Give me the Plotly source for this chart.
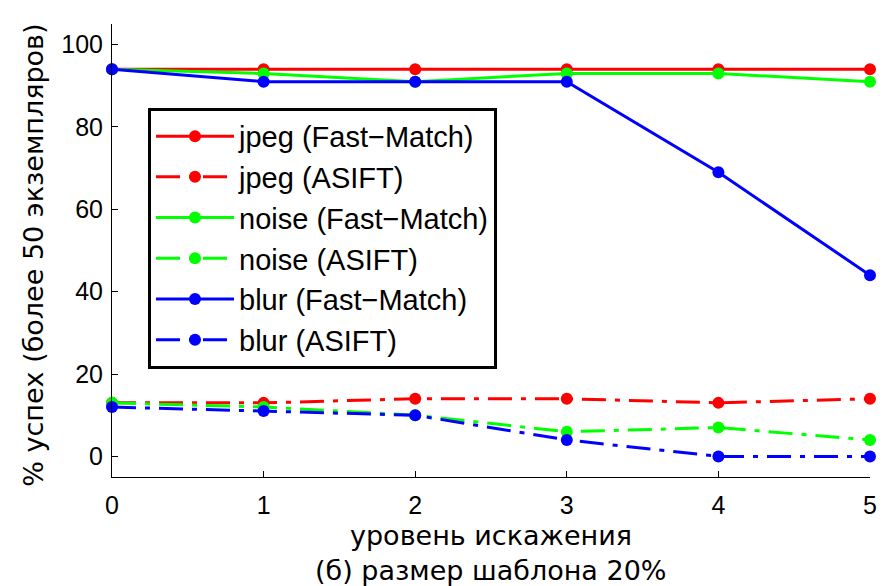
import plotly.graph_objects as go

levels = [0, 1, 2, 3, 4, 5]
jpeg_fm = [94, 94, 94, 94, 94, 94]
jpeg_asift = [13, 13, 14, 14, 13, 14]
noise_fm = [94, 93, 91, 93, 93, 91]
noise_asift = [13, 12, 10, 6, 7, 4]
blur_fm = [94, 91, 91, 91, 69, 44]
blur_asift = [12, 11, 10, 4, 0, 0]

x_title = "уровень искажения"
subtitle = "(б) размер шаблона 20%"
y_title = "% успех (более 50 экземпляров)"

series = [
    ("jpeg (Fast\u2212Match)", jpeg_fm, "#ff0000", "solid"),
    ("jpeg (ASIFT)", jpeg_asift, "#ff0000", "24px,9px,5px,9px"),
    ("noise (Fast\u2212Match)", noise_fm, "#00ff00", "solid"),
    ("noise (ASIFT)", noise_asift, "#00ff00", "24px,9px,5px,9px"),
    ("blur (Fast\u2212Match)", blur_fm, "#0000ff", "solid"),
    ("blur (ASIFT)", blur_asift, "#0000ff", "24px,9px,5px,9px"),
]

fig = go.Figure()
for name, vals, color, dash in series:
    fig.add_trace(go.Scatter(
        x=levels, y=vals, name=name, mode="lines+markers",
        line=dict(color=color, width=3, dash=dash),
        marker=dict(color=color, size=12),
        cliponaxis=False,
    ))

title_font = dict(family="DejaVu Sans", size=27, color="black")
fig.add_annotation(text=x_title, xref="paper", yref="paper", x=0.5, y=-0.0927,
                   xanchor="center", yanchor="top", showarrow=False,
                   borderpad=0, font=title_font)
fig.add_annotation(text=subtitle, xref="paper", yref="paper", x=0.5, y=-0.1693,
                   xanchor="center", yanchor="top", showarrow=False,
                   borderpad=0, font=title_font)
fig.add_annotation(text=y_title, xref="paper", yref="paper", x=-0.1046, y=0.49,
                   xanchor="center", yanchor="middle", textangle=-90,
                   showarrow=False, font=title_font)

fig.update_layout(
    width=883, height=578,
    margin=dict(l=104, r=21, t=16, b=109),
    paper_bgcolor="white", plot_bgcolor="white",
    font=dict(family="Liberation Sans", size=25, color="black"),
    showlegend=True,
    legend=dict(
        x=0.0475, y=0.815, xanchor="left", yanchor="top",
        bordercolor="black", borderwidth=3, bgcolor="white",
        font=dict(family="Liberation Sans", size=29, color="black"),
        tracegroupgap=0, itemwidth=78,
    ),
    xaxis=dict(
        range=[0, 5], tickvals=levels, ticks="inside", ticklen=6,
        tickcolor="black", showline=True, linecolor="black", linewidth=1,
        showgrid=False, zeroline=False, ticklabelstandoff=6, automargin=False,
        tickfont=dict(family="Liberation Sans", size=25),
    ),
    yaxis=dict(
        range=[-5, 105], tickvals=[0, 20, 40, 60, 80, 100], ticks="inside",
        ticklen=6, tickcolor="black", showline=True, linecolor="black",
        linewidth=1, showgrid=False, zeroline=False, ticklabelstandoff=3,
        automargin=False, tickfont=dict(family="Liberation Sans", size=25),
    ),
)

fig.write_html("out.html")
